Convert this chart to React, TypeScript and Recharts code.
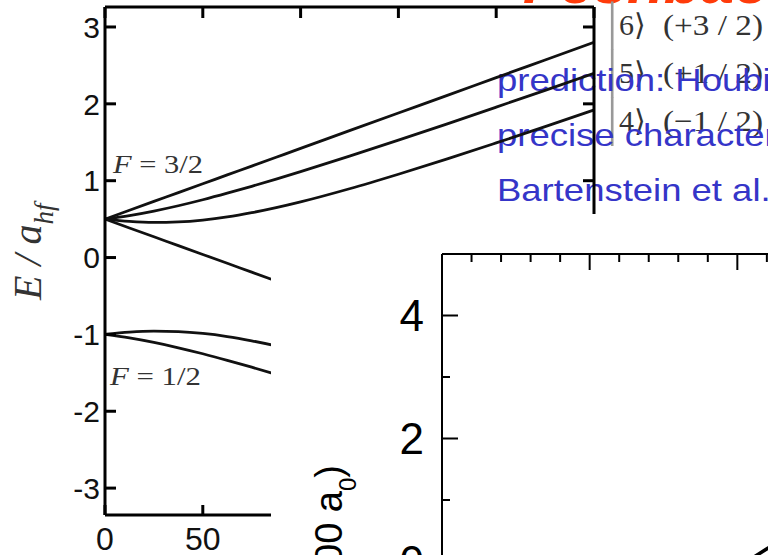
import { LineChart, Line, XAxis, YAxis } from 'recharts';

const SANS = '"Liberation Sans", Arial, sans-serif';
const SERIF = '"Liberation Serif", "Times New Roman", serif';

// Breit-Rabi levels of the 6Li ground state, E in units of a_hf vs. field in G
const fieldGauss = [0, 12.5, 25, 37.5, 50, 62.5, 75, 87.5, 100, 125, 150, 175, 200, 225, 250];
const level6 = [0.5, 0.615, 0.73, 0.845, 0.96, 1.075, 1.19, 1.305, 1.42, 1.651, 1.881, 2.11, 2.341, 2.571, 2.801];
const level5 = [0.5, 0.546, 0.605, 0.674, 0.752, 0.837, 0.927, 1.02, 1.117, 1.319, 1.527, 1.74, 1.957, 2.176, 2.397];
const level4 = [0.5, 0.47, 0.457, 0.464, 0.488, 0.528, 0.583, 0.649, 0.724, 0.895, 1.084, 1.283, 1.491, 1.703, 1.92];
const level3 = [0.5, 0.385, 0.27, 0.155, 0.04, -0.075, -0.19, -0.305, -0.42, -0.651, null, null, null, null, null];
const level2 = [-1, -0.97, -0.957, -0.964, -0.988, -1.028, -1.083, -1.149, -1.224, -1.395, null, null, null, null, null];
const level1 = [-1, -1.046, -1.105, -1.174, -1.252, -1.337, -1.427, -1.52, -1.617, -1.819, null, null, null, null, null];

const energyTicks = [-3, -2, -1, 0, 1, 2, 3];
const fieldTicks = [0, 50, 100, 150, 200, 250];

// scattering length panel (a in 1000 a0 vs. B in G)
const resonanceField = [400, 430, 460];
const scatteringLength = [-0.1, 0.13, 0.36];
const scanTicks = [0, 40, 80, 120, 160, 200, 240, 280, 320, 360, 400, 440, 480, 520, 560, 600];
const lengthTicks = [-1, 0, 1, 2, 3, 4, 5];

const kets = [
  { n: '6', m: '(+3 / 2)' },
  { n: '5', m: '(+1 / 2)' },
  { n: '4', m: '(\u22121 / 2)' },
];
const notes = ['prediction: Houbiers et al.', 'precise characterization:', 'Bartenstein et al. (2005)'];

const levels = fieldGauss.map((B, i) => ({
  B,
  l6: level6[i],
  l5: level5[i],
  l4: level4[i],
  l3: level3[i],
  l2: level2[i],
  l1: level1[i],
}));

const scan = resonanceField.map((B, i) => ({ B, a: scatteringLength[i] }));

function EnergyTick(props: any) {
  const { x, y, payload } = props;
  return (
    <g>
      <line x1={x} y1={y} x2={x + 11} y2={y} stroke="#000" strokeWidth={3} />
      <text x={x - 5} y={y} dy="0.36em" textAnchor="end" fontSize={30} fontFamily={SANS} fill="#111">
        {payload.value}
      </text>
    </g>
  );
}

function FieldTick(props: any) {
  const { x, y, payload } = props;
  return (
    <g>
      <line x1={x} y1={y} x2={x} y2={y - 10} stroke="#000" strokeWidth={3} />
      <text x={x} y={y + 35} textAnchor="middle" fontSize={32} fontFamily={SANS} fill="#111">
        {payload.value}
      </text>
    </g>
  );
}

function TopTick(props: any) {
  const { x, y } = props;
  return <line x1={x} y1={y} x2={x} y2={y + 11} stroke="#000" strokeWidth={3} />;
}

function RightTick(props: any) {
  const { x, y } = props;
  return <line x1={x} y1={y} x2={x - 11} y2={y} stroke="#000" strokeWidth={3} />;
}

function ScanTick(props: any) {
  const { x, y, payload } = props;
  const len = payload.value % 200 === 0 ? 16 : 8;
  return <line x1={x} y1={y} x2={x} y2={y + len} stroke="#000" strokeWidth={2} />;
}

function LengthTick(props: any) {
  const { x, y, payload } = props;
  const major = payload.value % 2 === 0;
  return (
    <g>
      <line x1={x} y1={y} x2={x + (major ? 16 : 8)} y2={y} stroke="#000" strokeWidth={2} />
      {major && (
        <text x={x - 18} y={y} dy="0.36em" textAnchor="end" fontSize={44} fontFamily={SANS} fill="#000">
          {payload.value}
        </text>
      )}
    </g>
  );
}

const frame = { stroke: '#000', strokeWidth: 3 };

export default function App() {
  return (
    <div style={{ position: 'absolute', left: 0, top: 0, width: 768, height: 555, overflow: 'hidden', background: '#fff' }}>
      {/* slide text behind the level diagram */}
      <svg width={768} height={555} style={{ position: 'absolute', left: 0, top: 0 }}>
        <text x={523} y={3} fontFamily={SANS} fontWeight="bold" fontStyle="italic" fontSize={60} fill="#ff3b0a" textLength={600} lengthAdjust="spacingAndGlyphs">
          Feshbach resonance
        </text>
        {kets.map((k, i) => (
          <g key={k.n} fill="#333" fontFamily={SERIF}>
            <text x={607} y={39 + i * 48} fontSize={52} fill="#999">|</text>
            <text x={619} y={35 + i * 48} fontSize={30}>{k.n}{'\u27E9'}</text>
            <text x={663} y={35 + i * 48} fontSize={30} textLength={100} lengthAdjust="spacingAndGlyphs">{k.m}</text>
          </g>
        ))}
        <g fontFamily={SANS} fontSize={32} fill="#3535c8" transform="translate(497,0) scale(1.14,1)">
          {notes.map((t, i) => (
            <text key={t} x={0} y={91 + i * 55}>{t}</text>
          ))}
        </g>
        <text transform="translate(41,300) rotate(-90)" fontFamily={SERIF} fontStyle="italic" fontSize={40} fill="#333">
          E / a<tspan fontSize={27} dy={12}>hf</tspan>
        </text>
        <text x={113} y={173} fontFamily={SERIF} fontSize={26} fill="#333" textLength={90} lengthAdjust="spacingAndGlyphs">
          <tspan fontStyle="italic">F</tspan> = 3/2
        </text>
        <text x={110} y={385} fontFamily={SERIF} fontSize={26} fill="#333" textLength={91} lengthAdjust="spacingAndGlyphs">
          <tspan fontStyle="italic">F</tspan> = 1/2
        </text>
      </svg>

      <div style={{ position: 'absolute', left: 0, top: 0 }}>
        <LineChart width={768} height={555} data={levels} margin={{ top: 6, right: 173, bottom: 0, left: 0 }}>
          <XAxis dataKey="B" type="number" domain={[0, 250]} ticks={fieldTicks} allowDataOverflow height={40}
            axisLine={frame} tickLine={false} tickSize={0} tickMargin={0} interval={0} tick={FieldTick} />
          <XAxis xAxisId="top" dataKey="B" orientation="top" type="number" domain={[0, 250]} ticks={fieldTicks} allowDataOverflow height={1}
            axisLine={frame} tickLine={false} tickSize={0} tickMargin={0} interval={0} tick={TopTick} />
          <YAxis type="number" domain={[-3.35, 3.26]} ticks={energyTicks} allowDataOverflow width={105}
            axisLine={frame} tickLine={false} tickSize={0} tickMargin={0} interval={0} tick={EnergyTick} />
          <YAxis yAxisId="right" orientation="right" type="number" domain={[-3.35, 3.26]} ticks={energyTicks} allowDataOverflow width={1}
            axisLine={frame} tickLine={false} tickSize={0} tickMargin={0} interval={0} tick={RightTick} />
          {['l6', 'l5', 'l4', 'l3', 'l2', 'l1'].map((k) => (
            <Line key={k} dataKey={k} type="monotone" stroke="#111" strokeWidth={2.8} dot={false} activeDot={false} isAnimationActive={false} />
          ))}
        </LineChart>
      </div>

      {/* scattering length panel laid over the lower right */}
      <div style={{ position: 'absolute', left: 271, top: 214, width: 497, height: 341, overflow: 'hidden', background: '#fff' }}>
        <div style={{ position: 'absolute', left: 0, top: 0 }}>
          <LineChart width={614} height={409} data={scan} margin={{ top: 39, right: 0, bottom: 0, left: 0 }}>
            <XAxis dataKey="B" orientation="top" type="number" domain={[0, 600]} ticks={scanTicks} allowDataOverflow height={1}
              axisLine={{ stroke: '#000', strokeWidth: 2 }} tickLine={false} tickSize={0} tickMargin={0} interval={0} tick={ScanTick} />
            <YAxis type="number" domain={[-1, 5]} ticks={lengthTicks} allowDataOverflow width={171}
              axisLine={{ stroke: '#000', strokeWidth: 2 }} tickLine={false} tickSize={0} tickMargin={0} interval={0} tick={LengthTick} />
            <Line dataKey="a" type="linear" stroke="#000" strokeWidth={3.5} dot={false} activeDot={false} isAnimationActive={false} />
          </LineChart>
        </div>
        <svg width={497} height={341} style={{ position: 'absolute', left: 0, top: 0 }}>
          <text transform="translate(71,251) rotate(-90)" textAnchor="end" fontFamily={SANS} fontSize={38} fill="#000">
            a (1000 a<tspan fontSize={24} dy={14}>0</tspan><tspan dy={-14}>)</tspan>
          </text>
        </svg>
      </div>
    </div>
  );
}
